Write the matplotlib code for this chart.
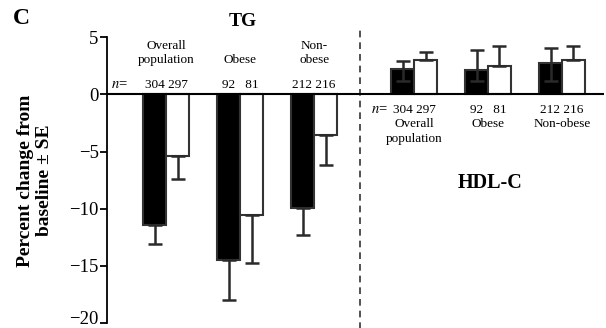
import matplotlib
matplotlib.use("Agg")
import matplotlib.pyplot as plt
from matplotlib.transforms import ScaledTranslation

plt.rcParams['font.family'] = ['Liberation Serif', 'DejaVu Serif']
plt.rcParams['mathtext.fontset'] = 'stix'

# TG: percent change (black = group 1, white = group 2)
groups = ["Overall\npopulation", "Obese", "Non-\nobese"]
hdl_groups = ["Overall\npopulation", "Obese", "Non-obese"]
n_black = ["304", "92", "212"]
n_white = ["297", "81", "216"]
tg_black = [-11.45, -14.5, -9.95]
tg_black_err = [1.65, 3.5, 2.4]
tg_white = [-5.35, -10.55, -3.55]
tg_white_err = [2.05, 4.2, 2.6]
hdl_black = [2.2, 2.15, 2.8]
hdl_black_err_up = [0.75, 1.75, 1.3]
hdl_black_err_dn = [1.0, 1.0, 1.6]
hdl_white = [3.0, 2.5, 3.0]
hdl_white_err = [0.75, 1.75, 1.25]

tg_pos = [0.8, 1.8, 2.8]
hdl_pos = [4.15, 5.15, 6.15]
w = 0.31
edge = '#333333'
ecol = '#2a2a2a'
fs = 9.5

fig = plt.figure(figsize=(6.06, 3.28), dpi=100)
ax = fig.add_axes([0.1766, 0.016, 0.8204, 0.870])

bk = dict(color='black', edgecolor=edge, linewidth=1.5, zorder=2)
wh = dict(color='white', edgecolor=edge, linewidth=1.5, zorder=2)
eb = dict(fmt='none', ecolor=ecol, elinewidth=1.8, capsize=5, capthick=1.8, zorder=3)

xb = [p - w / 2 for p in tg_pos]
xw = [p + w / 2 for p in tg_pos]
ax.bar(xb, tg_black, w, **bk)
ax.bar(xw, tg_white, w, **wh)
ax.errorbar(xb, tg_black, yerr=[tg_black_err, [0] * 3], **eb)
ax.errorbar(xw, tg_white, yerr=[tg_white_err, [0] * 3], **eb)

hb = [p - w / 2 for p in hdl_pos]
hw = [p + w / 2 for p in hdl_pos]
ax.bar(hb, hdl_black, w, **bk)
ax.bar(hw, hdl_white, w, **wh)
ax.errorbar(hb, hdl_black, yerr=[hdl_black_err_dn, hdl_black_err_up], **eb)
ax.errorbar(hw, hdl_white, yerr=[[0] * 3, hdl_white_err], **eb)

ax.axhline(0, color='black', linewidth=1.5, zorder=4)
ax.axvline(3.42, ymin=-0.03, ymax=1.03, color='#333333', linestyle=(0, (4, 3)),
           linewidth=1.2, clip_on=False)

ax.set_xlim(0, 6.72)
ax.set_ylim(-20, 5)
ax.set_yticks([5, 0, -5, -10, -15, -20])
ax.set_yticklabels(['5', '0', '\u22125', '\u221210', '\u221215', '\u221220'])
ax.set_xticks([])
for s in ['top', 'right', 'bottom']:
    ax.spines[s].set_visible(False)
ax.spines['left'].set_linewidth(1.3)
ax.tick_params(axis='y', length=5, width=1.3, labelsize=13.5, pad=1)
# lift the bottom label a bit so it stays inside the figure
lab = ax.get_yticklabels()[-1]
lab.set_transform(lab.get_transform() + ScaledTranslation(0, 4 / 72, fig.dpi_scale_trans))


def nlabel(a, b):
    return a + " " + b if len(a) > 2 else a + "   " + b


# TG labels
for p, g, a, b in zip(tg_pos, groups, n_black, n_white):
    ax.text(p, 2.45, g, ha='center', va='bottom', fontsize=fs, linespacing=1.3)
    ax.text(p, 0.6, nlabel(a, b), ha='center', va='baseline', fontsize=fs)
ax.text(0.05, 0.6, "$n$=", ha='left', va='baseline', fontsize=fs + 1)

# HDL labels
for p, g, a, b in zip(hdl_pos, hdl_groups, n_black, n_white):
    ax.text(p, -1.6, nlabel(a, b), ha='center', va='baseline', fontsize=fs)
    ax.text(p, -2.1, g, ha='center', va='top', fontsize=fs, linespacing=1.3)
ax.text(3.8, -1.6, "$n$=", ha='right', va='baseline', fontsize=fs + 1)

ax.text(1.84, 6.4, "TG", ha='center', va='center', fontsize=14, fontweight='bold',
        clip_on=False)
ax.text(5.18, -7.8, "HDL-C", ha='center', va='center', fontsize=14.5, fontweight='bold')

fig.text(0.036, 0.945, "C", ha='center', va='center', fontsize=17, fontweight='bold')
fig.text(0.057, 0.45, "Percent change from\nbaseline \u00b1 SE", rotation=90,
         ha='center', va='center', fontsize=14, fontweight='bold', linespacing=1.15)

fig.savefig("out.png", dpi=100)
